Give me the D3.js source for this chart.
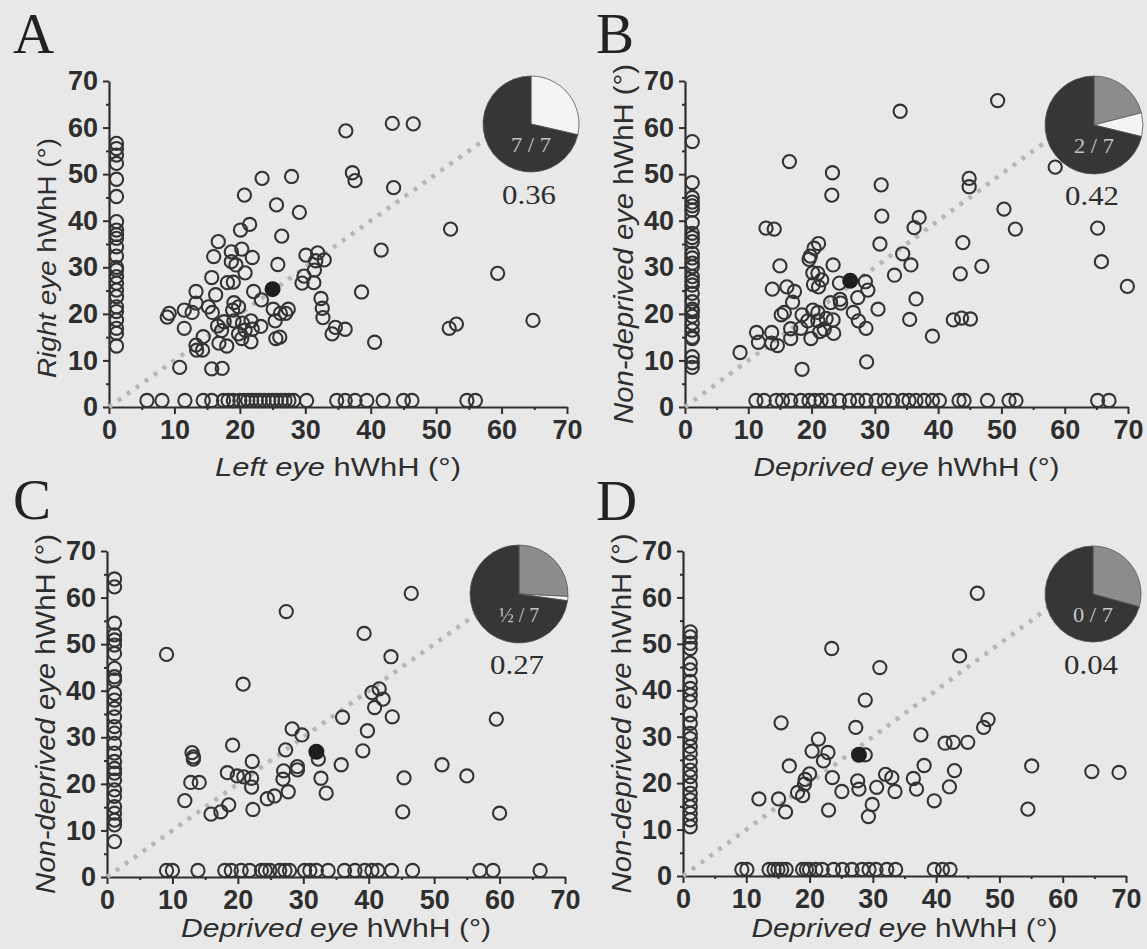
<!DOCTYPE html>
<html><head><meta charset="utf-8">
<script src="https://cdn.jsdelivr.net/npm/d3@7"></script>
<style>
html,body{margin:0;padding:0;background:#e8e8e8;}
svg{display:block;}
</style></head><body>
<svg id="chart" width="1147" height="949"></svg>
<script>
// ---------------- DATA ----------------
const tickValues = [0,10,20,30,40,50,60,70];
const minorTickValues = [5,15,25,35,45,55,65];

// Panel A
const aScatterX = [36.2,37.2,37.6,23.4,27.9,20.7,25.6,29.1,21.5,20.1,26.4,16.7,16.0,18.7,20.3,21.9,18.7,19.4,20.8,25.8,30.1,31.9,31.6,32.9,31.4,29.8,29.5,31.3,15.7,18.1,19.0,13.3,16.3,22.1,23.3,13.3,15.2,19.1,19.8,18.9,9.2,8.9,11.5,12.7,15.8,25.1,26.2,27.4,27.0,21.7,20.4,19.1,20.8,21.9,25.4,23.2,17.6,16.6,17.2,19.8,11.5,14.4,13.3,14.3,13.4,16.8,18.0,20.3,21.7,25.5,26.1,32.4,32.6,32.7,34.1,34.6,36.1,10.8,15.7,17.3,38.6,43.3,46.5,43.5,52.2,41.6,59.4,52.0,53.1,64.8,40.6];
const aScatterY = [59.3,50.3,48.6,49.1,49.5,45.5,43.4,41.8,39.2,38.0,36.7,35.5,32.3,33.3,33.9,32.1,31.2,30.5,28.8,30.6,32.6,33.1,31.4,31.6,29.4,28.1,26.6,26.7,27.8,26.7,26.8,24.8,24.1,24.8,23.0,22.3,21.5,22.4,21.5,20.8,20.1,19.3,20.8,20.3,20.3,21.0,20.1,21.0,20.1,18.5,18.0,18.5,16.5,16.7,18.5,17.3,18.3,17.4,16.4,15.7,16.9,15.1,13.3,12.2,12.2,13.7,13.1,14.7,14.0,14.7,15.0,23.3,21.2,19.2,15.7,17.1,16.7,8.5,8.2,8.3,24.7,60.9,60.8,47.1,38.2,33.7,28.7,16.9,17.8,18.6,13.9];
const aZeroXY = [56.6,55.5,54.1,52.3,48.9,45.2,39.8,38.0,37.0,36.2,34.4,32.4,30.0,29.4,28.0,26.6,25.1,23.7,21.5,20.5,18.7,16.9,15.8,13.1];
const aZeroYX = [5.8,8.1,11.6,14.4,15.7,17.5,18.2,19.0,20.0,20.6,21.2,21.8,22.5,23.1,23.7,24.4,25.0,25.6,26.3,26.9,27.5,28.2,30.2,34.8,36.1,37.6,39.4,41.9,45.0,46.3,54.7,56.0];
const aMean = [25.0,25.3];
const aPieValues = [0.286,0.714];
const aPieKinds = ["white","dark"];

// Panel B
const bScatterX = [16.5,23.3,23.2,31.0,31.1,30.8,37.0,36.2,12.8,14.1,21.1,20.4,19.8,19.6,34.4,35.7,33.1,15.0,23.4,20.2,21.0,21.6,20.3,21.1,24.4,28.5,28.9,27.3,13.8,16.1,17.3,17.0,23.0,24.5,24.6,30.5,15.2,15.7,20.2,21.0,18.5,19.4,21.0,22.3,23.4,26.6,27.4,28.6,16.7,16.7,18.3,19.9,21.3,22.0,23.5,11.3,13.7,11.6,13.7,14.6,8.7,18.5,28.7,35.5,36.5,34.0,49.4,44.9,44.9,50.4,52.2,65.2,65.8,69.9,58.5,43.9,43.5,46.9,42.4,43.7,45.1,39.1];
const bScatterY = [52.7,50.3,45.5,47.7,41.0,35.0,40.7,38.5,38.4,38.2,35.1,34.1,32.4,31.7,32.9,30.5,28.3,30.3,30.5,28.8,28.7,27.3,26.3,25.8,26.6,26.9,25.1,23.5,25.3,25.8,24.8,22.5,22.4,23.1,22.3,21.0,19.8,20.3,20.8,20.3,19.8,18.5,18.5,19.0,18.7,20.3,18.5,16.9,16.8,14.7,16.9,14.7,16.2,16.7,15.8,16.0,16.0,13.9,13.7,13.2,11.7,8.1,9.7,18.8,23.2,63.5,65.8,49.1,47.3,42.5,38.2,38.4,31.2,25.9,51.5,35.3,28.6,30.2,18.7,19.1,18.9,15.2];
const bZeroXY = [57.0,48.2,45.0,44.0,43.2,42.3,39.6,37.3,36.4,35.5,33.0,32.0,30.9,30.1,28.0,27.0,26.2,24.4,22.6,21.0,20.5,19.5,18.0,16.5,15.0,14.7,10.8,9.5,8.5];
const bZeroYX = [11.2,12.5,14.4,15.4,16.7,18.3,19.6,20.5,21.5,22.8,24.4,26.0,27.3,28.6,30.2,31.5,32.8,34.4,35.4,36.5,37.8,39.1,40.2,43.3,44.1,47.8,51.2,52.3,65.2,67.0];
const bMean = [26.1,27.1];
const bPieValues = [0.21,0.078,0.712];
const bPieKinds = ["gray","white","dark"];

// Panel C
const cScatterX = [27.4,46.5,39.3,43.4,9.1,20.8,40.5,41.6,42.2,40.9,43.6,36.0,39.8,39.1,28.3,29.8,19.2,13.0,13.2,13.2,27.3,32.3,22.2,35.8,27.0,26.9,29.1,29.1,18.4,19.9,20.9,22.1,22.1,32.7,27.7,33.5,12.8,14.1,11.9,24.5,25.6,22.3,15.9,17.4,18.6,45.4,45.2,51.2,55.0,59.5,60.0];
const cScatterY = [57.0,60.9,52.3,47.3,47.8,41.4,39.6,40.4,38.2,36.4,34.4,34.3,31.4,27.1,31.8,30.5,28.3,26.7,25.8,25.3,27.3,25.3,24.8,24.1,22.8,21.0,23.7,23.0,22.4,21.7,21.5,21.2,19.3,21.2,18.3,18.0,20.3,20.3,16.4,16.8,17.4,14.5,13.5,14.0,15.5,21.3,14.0,24.1,21.7,33.9,13.7];
const cZeroXY = [64.0,62.3,54.5,52.0,50.9,49.8,48.0,44.8,43.0,42.3,39.4,38.0,36.2,34.4,32.3,30.9,28.7,26.6,24.8,23.3,22.3,20.8,18.7,17.3,15.1,13.7,12.2,11.2,7.6];
const cZeroYX = [9.1,10.0,13.9,18.0,19.0,20.5,21.8,23.6,24.2,24.9,26.4,27.2,27.9,30.2,31.0,32.0,33.8,36.3,37.9,39.4,40.5,41.4,43.5,46.7,57.0,59.0,66.2];
const cMean = [32.0,26.9];
const cPieValues = [0.258,0.014,0.728];
const cPieKinds = ["gray","white","dark"];

// Panel D
const dScatterX = [46.5,23.5,43.7,31.1,28.8,15.5,27.3,37.6,41.4,42.7,45.0,21.4,20.4,22.9,22.2,28.8,16.8,38.1,42.9,20.0,19.3,19.2,23.6,27.6,27.8,32.0,33.0,36.4,36.9,42.1,30.6,18.1,18.9,25.1,33.5,39.7,12.0,15.1,16.2,23.0,29.9,29.3,55.1,54.5,64.6,68.9,47.5,48.2];
const dScatterY = [60.9,49.0,47.4,44.9,37.9,33.0,32.0,30.4,28.6,28.8,28.8,29.5,26.9,26.6,24.8,26.1,23.7,23.8,22.7,22.0,20.8,19.8,21.2,20.5,18.7,21.9,21.2,21.0,18.7,19.2,19.1,18.0,17.3,18.2,18.2,16.2,16.6,16.6,13.8,14.2,15.4,12.8,23.7,14.4,22.5,22.3,32.0,33.7];
const dZeroXY = [52.6,51.5,50.1,49.0,45.8,44.4,41.9,40.4,39.0,37.5,34.7,32.9,30.7,29.6,27.9,26.4,24.6,22.8,21.4,19.6,17.8,16.4,14.9,13.5,12.1,10.6];
const dZeroYX = [9.3,10.1,13.6,14.4,15.0,15.6,16.3,18.9,19.5,20.0,21.0,22.0,23.8,25.2,26.7,28.3,29.4,30.5,32.2,33.6,39.7,41.0,42.2];
const dMean = [27.8,26.1];
const dPieValues = [0.293,0.707];
const dPieKinds = ["gray","dark"];

const panelLetters = ["A","B","C","D"];
const pieLabels = ["7 / 7","2 / 7","\u00BD / 7","0 / 7"];
const corrValues = ["0.36","0.42","0.27","0.04"];
const xTitleItalic = ["Left eye","Deprived eye","Deprived eye","Deprived eye"];
const yTitleItalic = ["Right eye","Non-deprived eye","Non-deprived eye","Non-deprived eye"];
const titleRest = " hWhH (\u00B0)";

// ---------------- LAYOUT ----------------
const ZERO_DRAW = 1.15;   // where zero-valued points are drawn (just off the axis)
const ZERO_DRAW_Y = 1.4;
const sliceColor = {white:"#f4f4f4", gray:"#8c8c8c", dark:"#363636"};
const ink = "#2e2e2e";

const panels = [
  {sx:aScatterX, sy:aScatterY, zx:aZeroXY, zy:aZeroYX, mean:aMean, pv:aPieValues, pk:aPieKinds,
   x0:109, x1:567, y0:407, y1:81, pie:[531,124], pr:48, letter:[13,53],
   ylabOff:14, ylabLen:240, ylabFont:25.5, xtDy:69, xtLen:246},
  {sx:bScatterX, sy:bScatterY, zx:bZeroXY, zy:bZeroYX, mean:bMean, pv:bPieValues, pk:bPieKinds,
   x0:685, x1:1128, y0:407, y1:81, pie:[1094,125], pr:49, letter:[596,53],
   ylabOff:0, ylabLen:360, ylabFont:28, xtDy:69, xtLen:306},
  {sx:cScatterX, sy:cScatterY, zx:cZeroXY, zy:cZeroYX, mean:cMean, pv:cPieValues, pk:cPieKinds,
   x0:107, x1:565, y0:877, y1:551, pie:[519,594], pr:49, letter:[13,519],
   ylabOff:0, ylabLen:360, ylabFont:28, xtDy:60, xtLen:310},
  {sx:dScatterX, sy:dScatterY, zx:dZeroXY, zy:dZeroYX, mean:dMean, pv:dPieValues, pk:dPieKinds,
   x0:683, x1:1126, y0:876, y1:551, pie:[1093,594], pr:48, letter:[596,520],
   ylabOff:0, ylabLen:360, ylabFont:28, xtDy:61, xtLen:306}
];

const svg = d3.select("#chart");
svg.append("rect").attr("width",1147).attr("height",949).attr("fill","#e8e8e8");

panels.forEach((p,i)=>{
  const x = d3.scaleLinear().domain([0,70]).range([p.x0,p.x1]);
  const y = d3.scaleLinear().domain([0,70]).range([p.y0,p.y1]);
  const g = svg.append("g");

  // panel letter
  g.append("text").attr("x",p.letter[0]).attr("y",p.letter[1])
    .attr("font-family","'Liberation Serif','Times New Roman',serif")
    .attr("font-size",57).attr("fill","#222").text(panelLetters[i]);

  // x axis
  g.append("g").attr("transform",`translate(0,${p.y0})`)
    .call(d3.axisBottom(x).tickValues(tickValues).tickSize(7).tickSizeOuter(0).tickPadding(6));
  g.append("g").attr("transform",`translate(0,${p.y0})`)
    .call(d3.axisBottom(x).tickValues(minorTickValues).tickSize(3).tickFormat(""))
    .call(s=>s.select(".domain").remove());
  // y axis
  g.append("g").attr("transform",`translate(${p.x0},0)`)
    .call(d3.axisLeft(y).tickValues(tickValues).tickSize(6).tickSizeOuter(0).tickPadding(5));
  g.append("g").attr("transform",`translate(${p.x0},0)`)
    .call(d3.axisLeft(y).tickValues(minorTickValues).tickSize(3).tickFormat(""))
    .call(s=>s.select(".domain").remove());

  g.selectAll(".domain").attr("stroke",ink).attr("stroke-width",2.2);
  g.selectAll(".tick line").attr("stroke",ink).attr("stroke-width",2);
  g.selectAll(".tick text").attr("fill",ink)
    .attr("font-family","'Liberation Sans',Arial,sans-serif")
    .attr("font-weight","bold").attr("font-size",27);

  // axis titles
  const xt = g.append("text").attr("x",(p.x0+p.x1)/2).attr("y",p.y0+p.xtDy)
    .attr("text-anchor","middle").attr("fill",ink)
    .attr("textLength",p.xtLen).attr("lengthAdjust","spacingAndGlyphs")
    .attr("font-family","'Liberation Sans',Arial,sans-serif").attr("font-size",26);
  xt.append("tspan").attr("font-style","italic").text(xTitleItalic[i]);
  xt.append("tspan").text(titleRest);

  const cy = (p.y0+p.y1)/2 + p.ylabOff;
  const yt = g.append("text").attr("transform",`translate(${p.x0-62},${cy}) rotate(-90)`)
    .attr("text-anchor","middle").attr("dy","0.35em").attr("fill",ink)
    .attr("textLength",p.ylabLen).attr("lengthAdjust","spacingAndGlyphs")
    .attr("font-family","'Liberation Sans',Arial,sans-serif").attr("font-size",p.ylabFont);
  yt.append("tspan").attr("font-style","italic").text(yTitleItalic[i]);
  yt.append("tspan").text(titleRest);

  // diagonal unity line
  g.append("line").attr("x1",x(0)).attr("y1",y(0)).attr("x2",x(60)).attr("y2",y(60))
    .attr("stroke","#b6b6b6").attr("stroke-width",4.5).attr("stroke-dasharray","4 7");

  const circ = (sel)=>sel.attr("r",6.6).attr("fill","none").attr("stroke","#333").attr("stroke-width",2.1);

  // points on x = 0
  g.selectAll(null).data(p.zx).join("circle")
    .attr("cx",x(ZERO_DRAW)).attr("cy",d=>y(d)).call(circ);
  // points on y = 0
  g.selectAll(null).data(p.zy).join("circle")
    .attr("cx",d=>x(d)).attr("cy",y(ZERO_DRAW_Y)).call(circ);
  // scatter
  g.selectAll(null).data(p.sx.map((v,k)=>[v,p.sy[k]])).join("circle")
    .attr("cx",d=>x(d[0])).attr("cy",d=>y(d[1])).call(circ);
  // mean
  g.append("circle").attr("cx",x(p.mean[0])).attr("cy",y(p.mean[1])).attr("r",8).attr("fill","#1e1e1e");

  // pie
  const pie = d3.pie().sort(null).value(d=>d.v);
  const arc = d3.arc().innerRadius(0).outerRadius(p.pr);
  const pg = g.append("g").attr("transform",`translate(${p.pie[0]},${p.pie[1]})`);
  pg.selectAll("path").data(pie(p.pv.map((v,k)=>({v, k:p.pk[k]})))).join("path")
    .attr("d",arc).attr("fill",d=>sliceColor[d.data.k])
    .attr("stroke","#555").attr("stroke-width",0.8);
  pg.append("text").attr("x",0).attr("y",28).attr("text-anchor","middle")
    .attr("textLength",40).attr("lengthAdjust","spacingAndGlyphs")
    .attr("font-family","'Liberation Serif','Times New Roman',serif")
    .attr("font-size",20).attr("fill","#c4c4c4").text(pieLabels[i]);
  g.append("text").attr("x",p.pie[0]-2).attr("y",p.pie[1]+80).attr("text-anchor","middle")
    .attr("textLength",54).attr("lengthAdjust","spacingAndGlyphs")
    .attr("font-family","'Liberation Serif','Times New Roman',serif")
    .attr("font-size",28).attr("fill",ink).text(corrValues[i]);
});
</script>
</body></html>
